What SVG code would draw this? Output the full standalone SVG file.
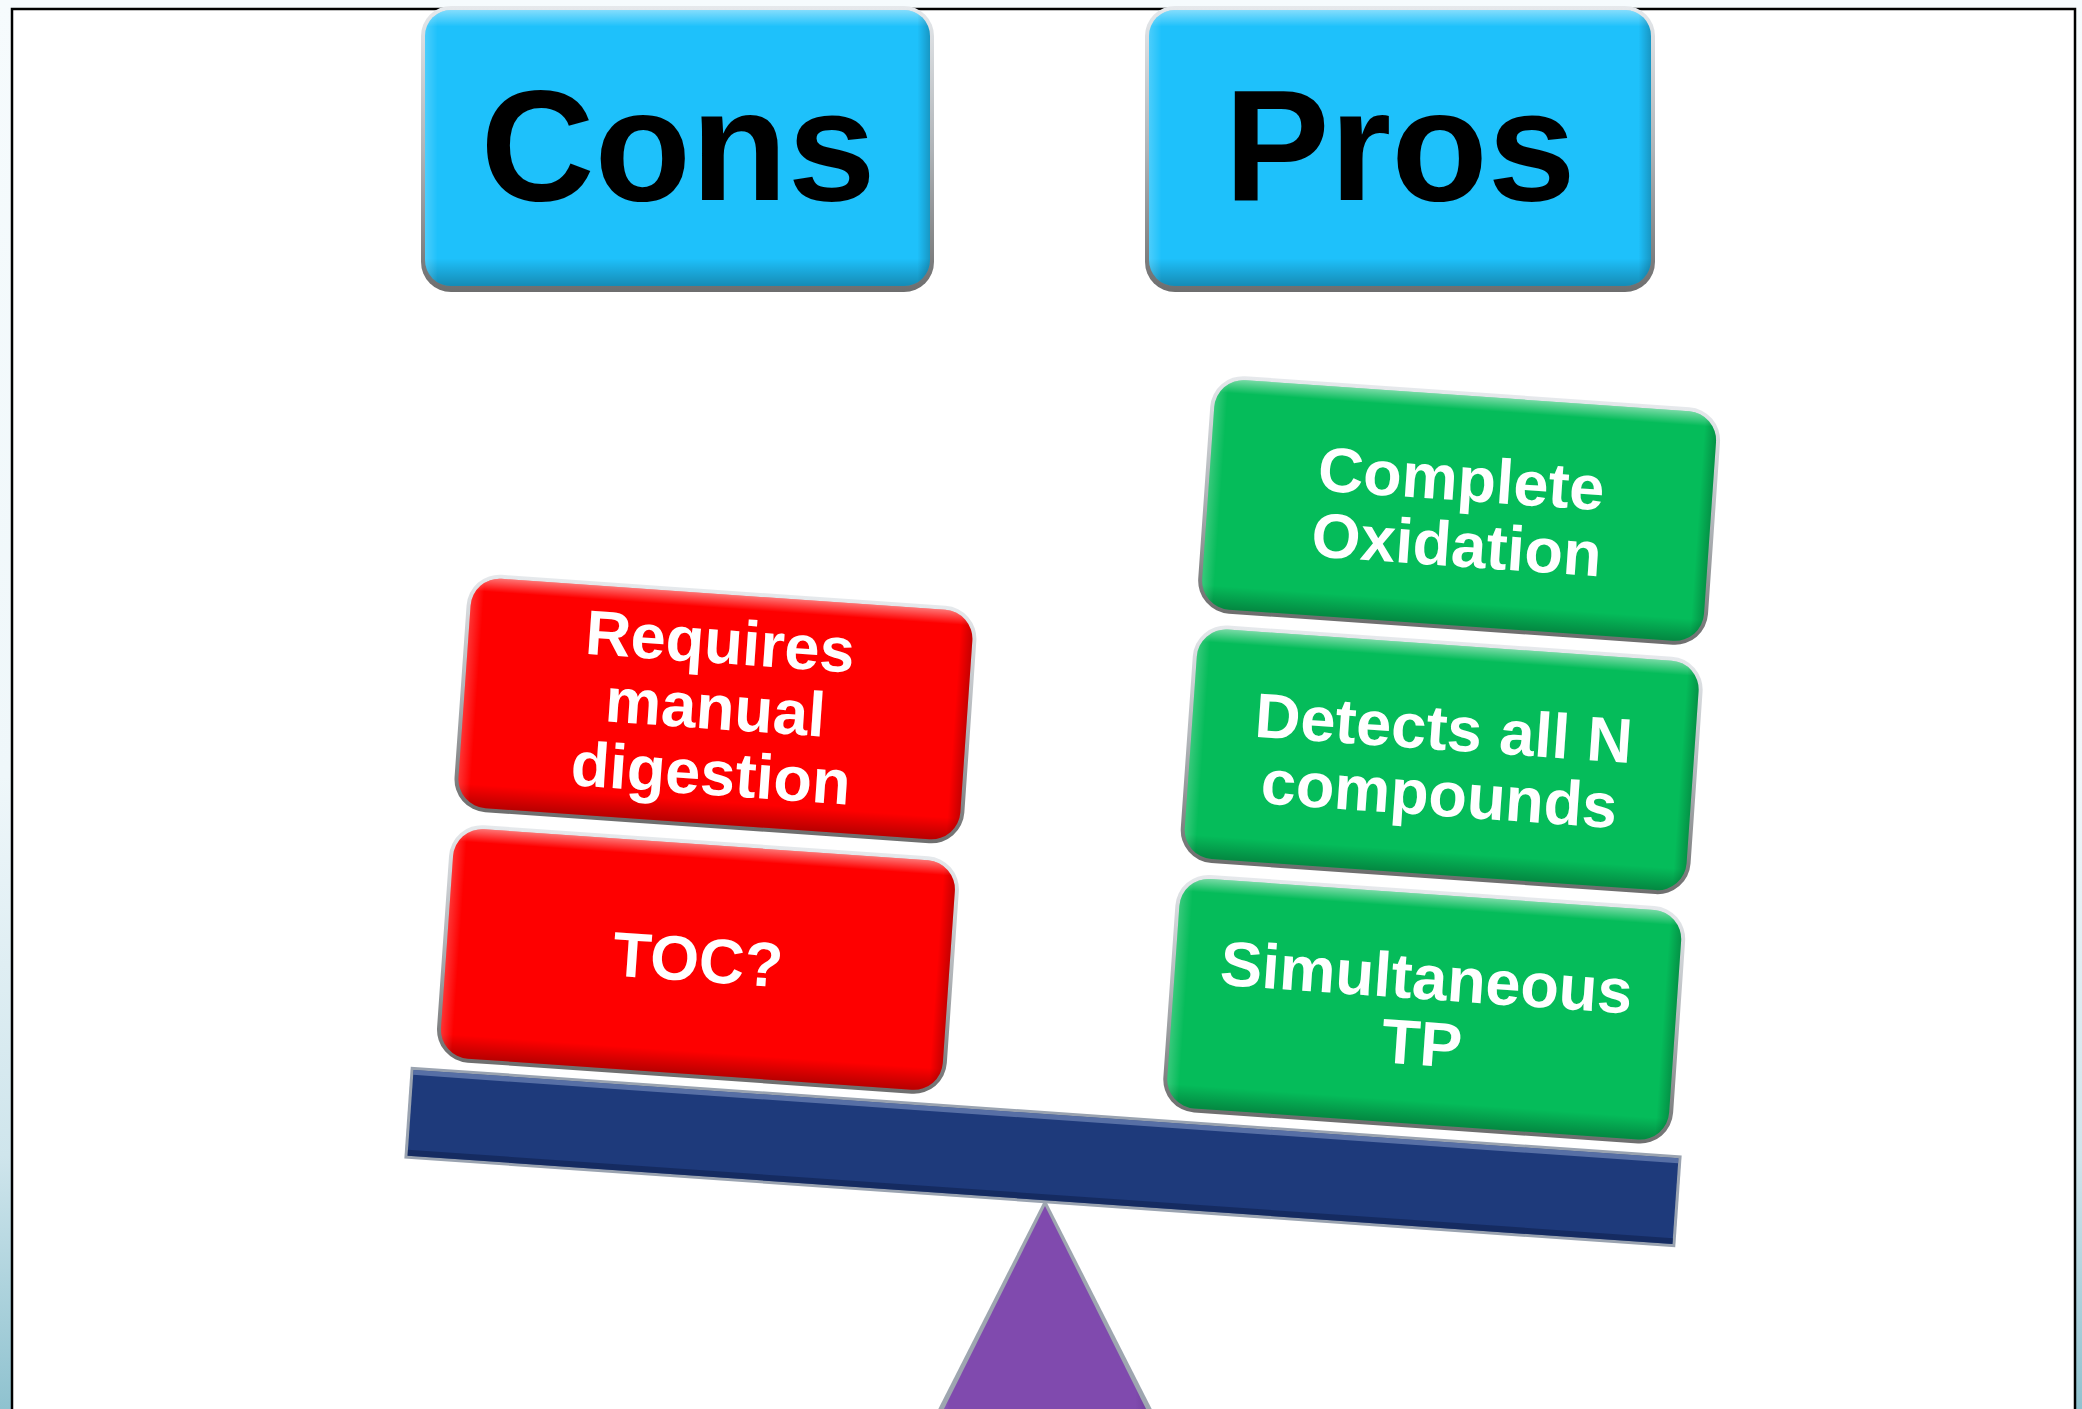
<svg xmlns="http://www.w3.org/2000/svg" width="2082" height="1409" viewBox="0 0 2082 1409">
  <defs>
    <linearGradient id="bg" x1="0" y1="0" x2="0" y2="1">
      <stop offset="0" stop-color="#f6fbfd"/>
      <stop offset="0.55" stop-color="#eff7fa"/>
      <stop offset="0.82" stop-color="#cfe5ec"/>
      <stop offset="1" stop-color="#8fc2cf"/>
    </linearGradient>
    <!-- grey rim round each bevelled shape -->
    <linearGradient id="rim" x1="0" y1="0" x2="0" y2="1">
      <stop offset="0" stop-color="#e6e9ec"/>
      <stop offset="0.5" stop-color="#b0b4b8"/>
      <stop offset="1" stop-color="#6e6e6e"/>
    </linearGradient>
    <!-- soft bevel: light top edge, dark bottom edge -->
    <linearGradient id="bevelV" x1="0" y1="0" x2="0" y2="1">
      <stop offset="0" stop-color="#fff" stop-opacity="0.45"/>
      <stop offset="0.06" stop-color="#fff" stop-opacity="0"/>
      <stop offset="0.9" stop-color="#000" stop-opacity="0"/>
      <stop offset="1" stop-color="#000" stop-opacity="0.28"/>
    </linearGradient>
    <linearGradient id="bevelH" x1="0" y1="0" x2="1" y2="0">
      <stop offset="0" stop-color="#fff" stop-opacity="0.2"/>
      <stop offset="0.025" stop-color="#fff" stop-opacity="0"/>
      <stop offset="0.975" stop-color="#000" stop-opacity="0"/>
      <stop offset="1" stop-color="#000" stop-opacity="0.22"/>
    </linearGradient>
    <linearGradient id="triShade" x1="0" y1="0" x2="1" y2="0">
      <stop offset="0" stop-color="#a178d0"/>
      <stop offset="0.1" stop-color="#804aae"/>
      <stop offset="0.88" stop-color="#804aae"/>
      <stop offset="1" stop-color="#5e3388"/>
    </linearGradient>
    <style>
      .rim { fill: url(#rim); }
      .bv { fill: url(#bevelV); }
      .bh { fill: url(#bevelH); }
      .blue { fill: #1ec1fb; }
      .red { fill: #fe0000; }
      .green { fill: #05bc5a; }
      .beam { fill: #1e3a7b; }
      .hdr { font-family: "Liberation Sans", Arial, sans-serif; font-weight: bold; font-size: 158px; fill: #000; text-anchor: middle; }
      .lbl { font-family: "Liberation Sans", Arial, sans-serif; font-weight: bold; font-size: 63px; fill: #fff; text-anchor: middle; }
    </style>
  </defs>

  <!-- page background and slide frame -->
  <rect x="0" y="0" width="2082" height="1409" fill="url(#bg)"/>
  <rect x="12" y="9" width="2063" height="1420" fill="#fff" stroke="#000" stroke-width="2.5"/>

  <!-- header buttons -->
  <g id="cons">
    <rect class="rim" x="421" y="6" width="513" height="286" rx="30"/>
    <rect class="blue" x="425" y="10" width="505" height="276" rx="26"/>
    <rect class="bv" x="425" y="10" width="505" height="276" rx="26"/>
    <rect class="bh" x="425" y="10" width="505" height="276" rx="26"/>
    <text class="hdr" x="678" y="200">Cons</text>
  </g>
  <g id="pros">
    <rect class="rim" x="1145" y="6" width="510" height="286" rx="30"/>
    <rect class="blue" x="1149" y="10" width="502" height="276" rx="26"/>
    <rect class="bv" x="1149" y="10" width="502" height="276" rx="26"/>
    <rect class="bh" x="1149" y="10" width="502" height="276" rx="26"/>
    <text class="hdr" x="1400" y="200">Pros</text>
  </g>

  <!-- fulcrum -->
  <g id="fulcrum">
    <polygon points="1045,1199 1170,1445 920,1445" fill="#9ea6b0"/>
    <polygon points="1045,1206 1164,1445 926,1445" fill="url(#triShade)"/>
  </g>

  <!-- tilted balance: beam plus the weights resting on it -->
  <g id="balance" transform="translate(1043 1157) rotate(4)">
    <g id="beam">
      <rect x="-637" y="-46" width="1274" height="92" fill="#9aa3b0"/>
      <rect class="beam" x="-634" y="-43" width="1268" height="86"/>
      <rect x="-634" y="-43" width="1268" height="5" fill="#6f86b8" opacity="0.7"/>
      <rect x="-634" y="37" width="1268" height="6" fill="#0f2250" opacity="0.6"/>
    </g>

    <g id="requires">
      <rect class="rim" x="-613.5" y="-543" width="511" height="238" rx="33"/>
      <rect class="red" x="-609.5" y="-539" width="503" height="230" rx="29"/>
      <rect class="bv" x="-609.5" y="-539" width="503" height="230" rx="29"/>
      <rect class="bh" x="-609.5" y="-539" width="503" height="230" rx="29"/>
      <text class="lbl" x="-358" y="-470">Requires</text>
      <text class="lbl" x="-358" y="-404">manual</text>
      <text class="lbl" x="-358" y="-338">digestion</text>
    </g>
    <g id="toc">
      <rect class="rim" x="-613.5" y="-292" width="511" height="238" rx="33"/>
      <rect class="red" x="-609.5" y="-288" width="503" height="230" rx="29"/>
      <rect class="bv" x="-609.5" y="-288" width="503" height="230" rx="29"/>
      <rect class="bh" x="-609.5" y="-288" width="503" height="230" rx="29"/>
      <text class="lbl" x="-358" y="-151">TOC?</text>
    </g>

    <g id="oxidation">
      <rect class="rim" x="114.5" y="-793" width="511" height="238" rx="33"/>
      <rect class="green" x="118.5" y="-789" width="503" height="230" rx="29"/>
      <rect class="bv" x="118.5" y="-789" width="503" height="230" rx="29"/>
      <rect class="bh" x="118.5" y="-789" width="503" height="230" rx="29"/>
      <text class="lbl" x="370" y="-684">Complete</text>
      <text class="lbl" x="370" y="-618">Oxidation</text>
    </g>
    <g id="detects">
      <rect class="rim" x="114.5" y="-543" width="511" height="238" rx="33"/>
      <rect class="green" x="118.5" y="-539" width="503" height="230" rx="29"/>
      <rect class="bv" x="118.5" y="-539" width="503" height="230" rx="29"/>
      <rect class="bh" x="118.5" y="-539" width="503" height="230" rx="29"/>
      <text class="lbl" x="370" y="-434">Detects all N</text>
      <text class="lbl" x="370" y="-368">compounds</text>
    </g>
    <g id="simultaneous">
      <rect class="rim" x="114.5" y="-293" width="511" height="238" rx="33"/>
      <rect class="green" x="118.5" y="-289" width="503" height="230" rx="29"/>
      <rect class="bv" x="118.5" y="-289" width="503" height="230" rx="29"/>
      <rect class="bh" x="118.5" y="-289" width="503" height="230" rx="29"/>
      <text class="lbl" x="370" y="-184">Simultaneous</text>
      <text class="lbl" x="370" y="-118">TP</text>
    </g>
  </g>
</svg>
